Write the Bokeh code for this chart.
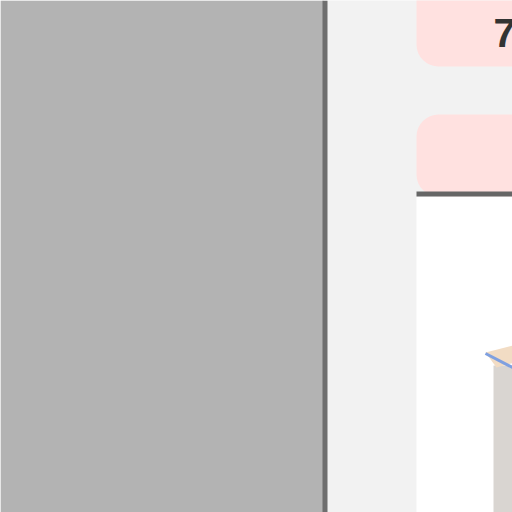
from bokeh.plotting import figure
from bokeh.models import Range1d
from bokeh.core.properties import value
from bokeh.embed import file_html
from bokeh.resources import INLINE

# panels (left, right, top, bottom) in picture pixels
panel_left = [0, 416, 416, 416]
panel_right = [323, 540, 540, 540]
panel_top = [0, -30, 114, 196]
panel_bottom = [512, 66, 196, 512]
panel_color = ["#b3b3b3", "#ffe1e0", "#ffe1e0", "#ffffff"]
panel_radius = [0, 22, 22, 0]

card_label = ["7"]

p = figure(width=512, height=512, output_backend="svg", toolbar_location=None,
           x_range=Range1d(0, 512), y_range=Range1d(512, 0), min_border=0,
           background_fill_color="#f2f2f2", border_fill_color="#f2f2f2")
p.axis.visible = False
p.grid.visible = False
p.outline_line_color = None

for l, r, t, b, c, rad in zip(panel_left, panel_right, panel_top, panel_bottom, panel_color, panel_radius):
    p.quad(left=l, right=r, top=t, bottom=b, fill_color=c, line_color=None, border_radius=rad)

# divider lines
p.quad(left=322, right=327, top=0, bottom=512, fill_color="#6e6e6e", line_color=None)
p.quad(left=416, right=540, top=191, bottom=196, fill_color="#666666", line_color=None)

# box shape in lower right
p.patch([493, 540, 540, 493], [365, 365, 540, 540], fill_color="#d9d5d1", line_color=None)
p.patch([485, 512, 540, 496], [352, 345, 355, 367], fill_color="#f2dcc4", line_color=None)
p.line([485, 512], [353, 367], line_color="#7fa0e0", line_width=3)

p.text(x=[493], y=[32], text=card_label, text_font=value("Liberation Sans"),
       text_font_style="bold", text_font_size="40px", text_color="#333333",
       text_baseline="middle", text_align="left")

open("out.html", "w").write(file_html(p, INLINE))
